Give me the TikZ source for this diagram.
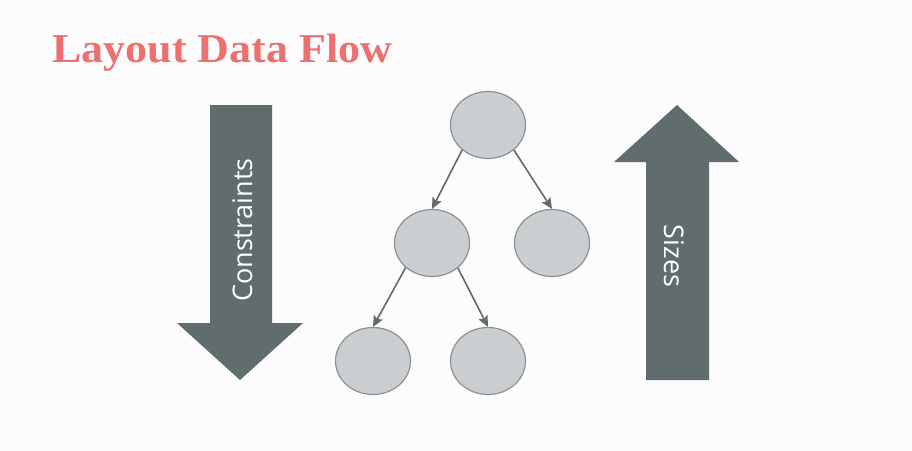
\documentclass[tikz,border=0pt]{standalone}
\usepackage{fontspec}
\setmainfont{Liberation Serif}
\newfontfamily\labelfont{Open Sans}
\usepackage{tikz}
\usetikzlibrary{shapes.geometric,arrows.meta,positioning}
\definecolor{titlered}{RGB}{236,112,112}
\definecolor{bararrow}{RGB}{96,108,110}
\definecolor{nodefill}{RGB}{202,206,208}
\definecolor{nodeline}{RGB}{140,145,146}
\definecolor{edgegray}{RGB}{100,105,107}
\tikzset{
  treenode/.style={ellipse,draw=nodeline,fill=nodefill,line width=1.2pt,minimum width=75pt,minimum height=67pt,inner sep=0pt},
  treeedge/.style={draw=edgegray,line width=1.6pt,-{Stealth[length=11pt,width=10pt,inset=2pt]}},
  flowtext/.style={text=white,font=\labelfont\fontsize{27}{30}\selectfont,anchor=base}
}
\begin{document}
\begin{tikzpicture}[x=1pt,y=-1pt]
\fill[white!98!gray] (0,0) rectangle (912,450);
\useasboundingbox (0,0) rectangle (912,450);
\node[anchor=base west,text=titlered,font=\bfseries\fontsize{41}{44}\selectfont,inner sep=0pt] (title) at (52,62) {\scalebox{1.075}[1]{Layout Data Flow}};
\fill[bararrow] (210,105) -- (272,105) -- (272,323) -- (303,323) -- (240,380) -- (177,323) -- (210,323) -- cycle;
\node[flowtext,rotate=90] (constraints) at (252,230) {Constraints};
\fill[bararrow] (677,105) -- (739,162) -- (709,162) -- (709,380) -- (646,380) -- (646,162) -- (614,162) -- cycle;
\node[flowtext,rotate=-90] (sizes) at (664,256) {Sizes};
\node[treenode] (root) at (488,125) {};
\node[treenode] (midl) at (432,243) {};
\node[treenode] (midr) at (552,243) {};
\node[treenode] (botl) at (373,361) {};
\node[treenode] (botr) at (488,361) {};
\draw[treeedge] (root.224) -- (midl.north);
\draw[treeedge] (root.-44) -- (midr.north);
\draw[treeedge] (midl.223) -- (botl.north);
\draw[treeedge] (midl.-44) -- (botr.north);
\end{tikzpicture}
\end{document}
